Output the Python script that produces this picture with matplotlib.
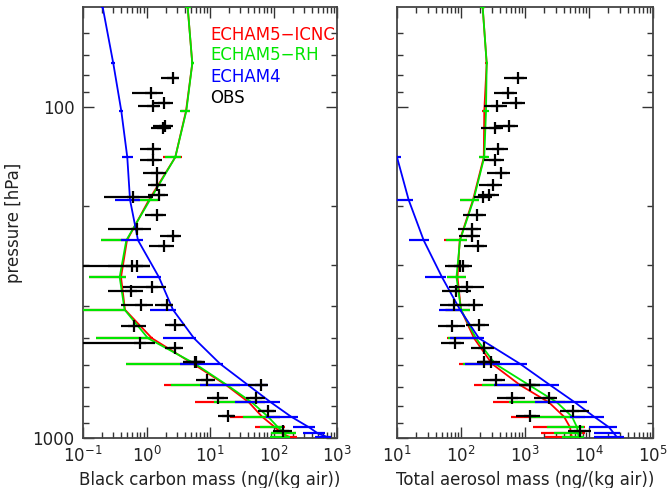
import matplotlib
matplotlib.use("Agg")
import matplotlib.pyplot as plt
import numpy as np
from matplotlib.ticker import FixedLocator, NullFormatter, LogLocator

# ---------------- data ----------------
# model pressure levels (hPa)
lev = [50, 74, 103, 142, 191, 253, 327, 410, 500, 597, 692, 781, 862, 928, 969, 995]

# Black carbon (ng/kg air): centre, lower end, upper end of spread
bc_e4 = [0.204, 0.300, 0.401, 0.498, 0.550, 0.735, 1.57, 2.61, 5.6, 14.4, 39.7, 91.3, 189, 362, 502, 722]
bc_e4_lo = [0.194, 0.279, 0.373, 0.416, 0.319, 0.397, 0.709, 1.135, 1.82, 3.37, 6.96, 24.8, 76.2, 203, 291, 450]
bc_e4_hi = [0.215, 0.322, 0.431, 0.613, 0.79, 0.881, 1.69, 2.91, 6.02, 16.0, 81.9, 126.6, 243, 450, 647, 804]

bc_icnc = [4.45, 5.26, 4.19, 2.84, 1.095, 0.493, 0.397, 0.458, 1.22, 5.4, 17.9, 41.1, 65.9, 105.6, 136, 181.9]
bc_icnc_lo = [4.04, 5.02, 3.49, 1.82, 0.591, 0.192, 0.124, 0.05, 0.160, 0.476, 1.89, 5.8, 20.7, 51.1, 91.3, 105.6]
bc_icnc_hi = [4.97, 5.6, 4.84, 3.66, 1.63, 0.55, 0.476, 0.47, 1.27, 6.02, 29.7, 73.5, 126.6, 151.8, 226, 234.5]

bc_rh = [4.45, 5.26, 4.24, 2.84, 1.135, 0.481, 0.378, 0.452, 1.056, 5.8, 18.5, 45.8, 81.9, 117.7, 151.8, 157.3]
bc_rh_lo = [4.04, 5.02, 3.37, 1.93, 0.613, 0.194, 0.124, 0.05, 0.160, 0.476, 2.43, 11.6, 33.1, 61.3, 91.3, 88.1]
bc_rh_hi = [4.97, 5.6, 4.79, 3.53, 1.52, 0.51, 0.47, 0.46, 1.135, 6.24, 29.7, 73.5, 126.6, 134.6, 226, 181.9]

# Total aerosol (ng/kg air)
ta_e4 = [1.0, 2.0, 4.0, 10.0, 15.2, 26.1, 50.5, 96.5, 191, 835, 2459, 6043, 11970, 20540, 24590, 27380]
ta_e4_lo = [0.9, 1.8, 3.6, 8.0, 10.0, 15.2, 27.7, 44.8, 68.1, 116.7, 328, 1433, 5050, 9893, 12100, 11840]
ta_e4_hi = [1.1, 2.2, 4.4, 11.5, 17.8, 32.0, 58.9, 102.5, 229, 1075, 3436, 9307, 17340, 27380, 30180, 34850]

ta_icnc = [218, 252, 231, 227, 154, 95.4, 88.2, 100, 160, 305, 835, 2371, 4069, 5050, 5233, 5425]
ta_icnc_lo = [205, 237, 211, 191, 97.5, 54.8, 60.4, 56.2, 60.4, 94, 161, 313, 604, 1334, 1778, 2077]
ta_icnc_hi = [233, 268, 252, 268, 189, 124, 121, 138, 198, 407, 1433, 4217, 7234, 8660, 8660, 8351]

ta_rh = [218, 252, 246, 231, 157, 96.5, 85, 100, 171.6, 340, 1155, 3162, 5425, 6494, 6732, 6905]
ta_rh_lo = [197, 242, 223, 189, 97.5, 58.3, 60.4, 58.3, 62.6, 106, 213, 556, 1210, 2207, 2808, 3785]
ta_rh_hi = [237, 263, 274, 271, 189, 124, 121, 138, 213, 437, 1715, 5050, 8660, 8262, 7775, 8262]

# observations
obs_p = [82, 90.7, 97.4, 99.8, 114.7, 116.0, 134.2, 145.3, 159.0, 172.8, 184.1, 187.0,
         212.8, 234.0, 245.3, 264.0, 302.3, 302.3, 349.2, 358.9, 395.6, 397.2, 455.7,
         459.8, 515.3, 533.6, 590.5, 590.5, 668, 691.6, 757, 757, 830.5, 858, 952.5]
obs_bc = [2.59, 1.16, 1.92, 1.275, 1.96, 1.82, 1.27, 1.27, 1.44, 1.48, 1.57, 0.613,
          1.46, 0.701, 2.59, 1.89, 0.591, 0.696, 1.24, 0.576, 2.07, 0.819, 2.86,
          0.635, 0.79, 2.81, 6.06, 5.8, 9.07, 62.9, 13.46, 53.4, 82.5, 19.35, 140]
obs_bc_lo = [1.67, 0.585, 1.27, 0.743, 1.25, 1.18, 0.776, 0.79, 0.881, 1.06, 1.06, 0.214,
             0.947, 0.250, 1.63, 1.10, 0.05, 0.25, 0.427, 0.2475, 1.346, 0.401, 1.93,
             0.401, 0.05, 1.93, 3.76, 3.7, 6.08, 39.7, 8.97, 36.5, 57, 13.37, 98.2]
obs_bc_hi = [3.29, 1.80, 2.59, 1.63, 2.64, 2.43, 1.72, 1.75, 2.03, 2.03, 2.18, 1.27,
             2.03, 1.16, 3.53, 2.71, 1.12, 1.15, 2.05, 0.881, 2.61, 1.27, 4.0,
             0.993, 1.346, 3.76, 8.25, 8.0, 11.86, 81.9, 19.2, 72.7, 108.3, 24.5, 197.8]
obs_ta = [769, 548, 723, 369, 568, 340, 383, 344, 422, 313, 277, 221,
          178, 149, 149, 184, 97.5, 107, 124, 84.5, 158, 78.6, 189,
          72.3, 79.7, 231, 226, 294, 356, 1184, 626, 2346, 5623, 1210, 7155]
obs_ta_lo = [470, 331, 432, 231, 352, 205, 246, 226, 255, 189, 184, 161,
             106, 89, 94, 110, 55.6, 62.6, 65.6, 50.5, 97.5, 46.5, 121,
             43.2, 48.7, 143, 178, 198, 221, 806, 365, 1367, 3560, 731, 4697]
obs_ta_hi = [1063, 758, 1000, 518, 786, 458, 548, 475, 589, 437, 388, 305,
             248, 205, 200, 255, 135, 149, 226, 143, 221, 137, 271,
             117, 110, 324, 328, 411, 492, 1715, 1011, 3162, 9893, 1697, 10747]

legend_labels = ["ECHAM5\u2212ICNC", "ECHAM5\u2212RH", "ECHAM4", "OBS"]
legend_colors = ["#ff0000", "#00e600", "#0000ff", "#000000"]
xlabels = ["Black carbon mass (ng/(kg air))", "Total aerosol mass (ng/(kg air))"]
ylabel = "pressure [hPa]"

# ---------------- plotting ----------------
plt.rcParams['font.family'] = ['DejaVu Sans']
plt.rcParams['mathtext.default'] = 'regular'
fig = plt.figure(figsize=(6.68, 4.88), dpi=100)
axL = fig.add_axes([83/668, 1-438/488, 254/668, 431/488])
axR = fig.add_axes([397/668, 1-438/488, 256/668, 431/488])

RED, GRN, BLU = "#ff0000", "#00e600", "#0000ff"


def model(ax, c, lo, hi, col, z):
    c = np.array(c); lo = np.array(lo); hi = np.array(hi)
    ax.plot(c, lev, color=col, lw=1.3, zorder=z)
    ax.errorbar(c, lev, xerr=[c - lo, hi - c], fmt='none', ecolor=col,
                elinewidth=1.6, capsize=0, zorder=z)


def obs(ax, c, lo, hi):
    c = np.array(c); lo = np.array(lo); hi = np.array(hi)
    ax.errorbar(c, obs_p, xerr=[c - lo, hi - c], fmt='+', color='black',
                ms=9, mew=1.6, elinewidth=1.6, capsize=0, zorder=10)


model(axL, bc_icnc, bc_icnc_lo, bc_icnc_hi, RED, 3)
model(axL, bc_rh, bc_rh_lo, bc_rh_hi, GRN, 4)
model(axL, bc_e4, bc_e4_lo, bc_e4_hi, BLU, 5)
obs(axL, obs_bc, obs_bc_lo, obs_bc_hi)

model(axR, ta_icnc, ta_icnc_lo, ta_icnc_hi, RED, 3)
model(axR, ta_rh, ta_rh_lo, ta_rh_hi, GRN, 4)
model(axR, ta_e4, ta_e4_lo, ta_e4_hi, BLU, 5)
obs(axR, obs_ta, obs_ta_lo, obs_ta_hi)

for ax, xl, lim in [(axL, xlabels[0], (0.1, 1000)), (axR, xlabels[1], (10, 1e5))]:
    ax.set_xscale('log')
    ax.set_yscale('log')
    ax.set_xlim(*lim)
    ax.set_ylim(1000, 50)
    ax.xaxis.set_major_locator(LogLocator(base=10, numticks=10))
    ax.xaxis.set_minor_locator(LogLocator(base=10, subs=np.arange(2, 10), numticks=20))
    ax.yaxis.set_major_locator(FixedLocator([100, 1000]))
    ax.yaxis.set_minor_locator(FixedLocator([60, 70, 80, 90, 200, 300, 400, 500, 600, 700, 800, 900]))
    ax.yaxis.set_minor_formatter(NullFormatter())
    ax.tick_params(which='both', direction='in', top=True, right=True,
                   colors='#333333', labelcolor='#222222', width=1.0)
    ax.tick_params(which='major', length=8, labelsize=12, pad=6)
    ax.tick_params(which='minor', length=4)
    for s in ax.spines.values():
        s.set_linewidth(1.3)
        s.set_color('#444444')
    ax.set_xlabel(xl, fontsize=12, color='#222222', labelpad=3)

axL.set_yticklabels(['100', '1000'])
axR.set_yticklabels([])
axL.set_ylabel(ylabel, fontsize=12, color='#222222')
axL.yaxis.set_label_coords(-0.235, 0.5)

ys = [0.935, 0.889, 0.838, 0.790]
for lab, col, y in zip(legend_labels, legend_colors, ys):
    axL.text(0.50, y, lab, color=col, fontsize=12, transform=axL.transAxes,
             va='center', ha='left')

fig.savefig("out.png", dpi=100)
